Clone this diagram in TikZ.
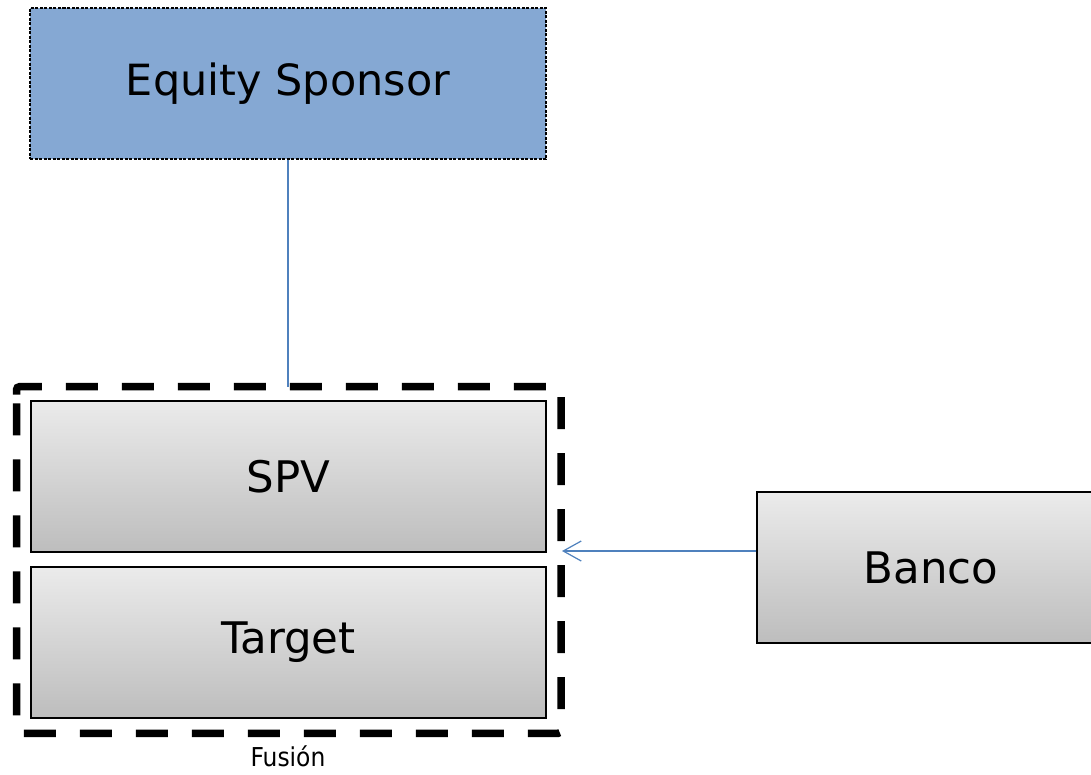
\documentclass[tikz,border=0pt]{standalone}
\usepackage{fontspec}
\setmainfont{DejaVu Sans}
\newfontfamily\condfont{DejaVu Sans Condensed}
\usetikzlibrary{arrows.meta}
\definecolor{sponsorblue}{HTML}{85A8D3}
\definecolor{linkblue}{HTML}{4F81BD}
\definecolor{gtop}{HTML}{EBEBEB}
\definecolor{gbot}{HTML}{BDBDBD}
\begin{document}
\begin{tikzpicture}[x=1pt,y=-1pt,
  graybox/.style={draw=black,line width=1.5pt,top color=gtop,bottom color=gbot,
    minimum width=515pt,minimum height=151pt,inner sep=0pt,font=\fontsize{43.5}{50}\selectfont},
  link/.style={draw=linkblue,line width=1.3pt},
  fusline/.style={draw=black,line width=7.5pt,dash pattern=on 32pt off 24pt,rounded corners=3pt}]
\useasboundingbox (0,0) rectangle (1091,774);
\node[draw=black,line width=1.3pt,dash pattern=on 3pt off 1.5pt,fill=sponsorblue,
  minimum width=516pt,minimum height=151pt,inner sep=0pt,
  font=\fontsize{43}{50}\selectfont] (eq) at (288,83.5) {Equity Sponsor};
\node[graybox] (spv) at (288.5,476.5) {SPV};
\node[graybox] (tgt) at (288.5,642.5) {Target};
\node[graybox,minimum width=348pt] (banco) at (931,567.5) {Banco};
\node[minimum width=544.5pt,minimum height=346.6pt,inner sep=0pt,outer sep=0pt] (fus) at (288.75,560) {};
\draw[fusline] ([yshift=-11pt]fus.north west) -- (fus.north west) -- (fus.north east)
  -- (fus.south east) -- (fus.south west) -- cycle;
\node[font=\condfont\fontsize{26}{30}\selectfont,anchor=base,inner sep=0pt] (lbl) at (288,766.5) {Fusión};
\draw[link] (eq.south) -- (eq.south |- fus.north);
\draw[link,-{Straight Barb[length=18pt,width=20pt,line width=1.2pt]}]
  ([yshift=16.5pt]banco.west) -- ([yshift=9pt,xshift=1pt]fus.east);
\end{tikzpicture}
\end{document}
